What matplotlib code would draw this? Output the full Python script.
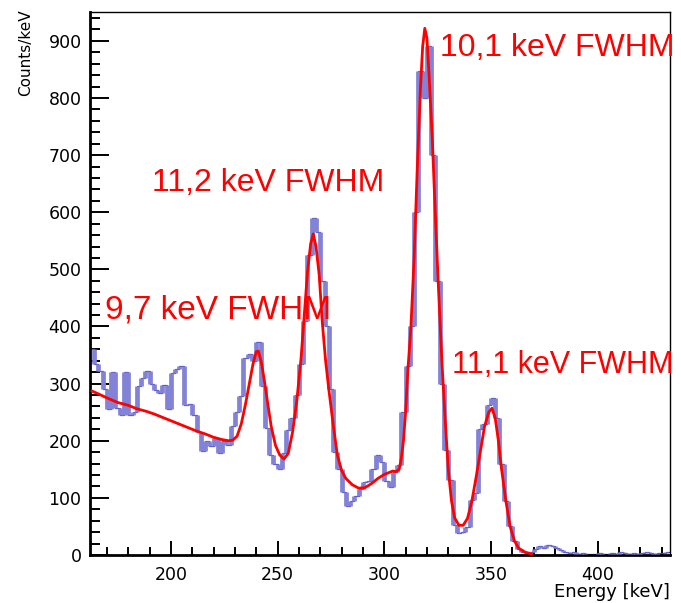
import numpy as np
import matplotlib
matplotlib.use("Agg")
import matplotlib.pyplot as plt
from matplotlib.ticker import MultipleLocator

# histogram: 2 keV bins starting at 162 keV (counts/keV)
bin_lo = 162
bin_width = 2
counts = [360, 335, 322, 290, 255, 320, 258, 245, 320, 245, 250, 295, 310, 322, 300, 288,
          284, 298, 255, 318, 325, 330, 262, 265, 245, 215, 182, 200, 190, 205, 178, 200,
          192, 225, 250, 278, 345, 352, 340, 372, 295, 222, 175, 160, 150, 178, 218, 240,
          280, 335, 410, 525, 590, 565, 480, 400, 290, 180, 150, 110, 85, 95, 103, 115,
          128, 130, 150, 175, 163, 130, 119, 145, 157, 250, 330, 400, 600, 848, 800, 891,
          700, 480, 300, 184, 131, 52, 38, 40, 49, 96, 108, 220, 230, 262, 275, 240,
          160, 95, 50, 25, 10, 6, 4, 6, 10, 16, 12, 18, 15, 12, 8, 6,
          3, 5, 2, 3, 1, 2, 1, 3, 1, 2, 4, 2, 5, 3, 2, 4,
          1, 3, 5, 4, 2, 4, 3, 6]

# fitted curve (keV, counts/keV)
fit_e = [163, 166, 170, 175, 180, 184, 188, 192, 196, 200, 204, 208, 212, 216, 220, 224,
         227, 229, 231, 233, 235, 237, 238.5, 240, 241, 242.5, 244, 245.5, 247, 249, 251, 253,
         255, 257, 259, 261, 262.5, 264, 265.5, 266.7, 268, 269.5, 271, 272.5, 274, 276, 278, 280,
         282, 285, 288, 291, 294, 297, 300, 302, 304, 305.5, 307, 308, 309, 310, 311, 312.5,
         314, 315.5, 317, 318, 319, 320, 321, 322.5, 324, 325.5, 327, 328.5, 330, 331.5, 333, 335,
         337, 339, 341, 343, 345, 347, 349, 350.5, 352, 353.5, 355, 357, 359, 361, 363, 366, 369]
fit_y = [287, 282, 275, 267, 262, 256, 252, 247, 241, 235, 229, 223, 217, 212, 206, 202,
         200, 201, 208, 230, 265, 305, 335, 356, 357, 335, 300, 262, 225, 192, 175, 168,
         178, 215, 270, 345, 420, 495, 545, 562, 540, 490, 405, 340, 290, 230, 175, 148,
         134, 123, 117, 118, 125, 134, 141, 144, 147, 146, 150, 170, 200, 250, 320, 400,
         520, 680, 820, 890, 922, 905, 840, 730, 590, 460, 340, 240, 150, 95, 65, 52,
         52, 64, 93, 135, 180, 225, 250, 257, 240, 200, 150, 95, 50, 25, 12, 5, 2]

labels = ["10,1 keV FWHM", "11,2 keV FWHM", "9,7 keV FWHM", "11,1 keV FWHM"]
label_pos = [(0.603, 0.934), (0.107, 0.685), (0.026, 0.451), (0.624, 0.35)]
label_size = [23, 23, 24, 22]

counts = np.array(counts, dtype=float)
edges = bin_lo + bin_width * np.arange(len(counts) + 1)

fig = plt.figure(figsize=(6.81, 6.03), dpi=100)
ax = fig.add_axes([0.132, 0.0796, 0.852, 0.900])

# ROOT-like drawing: thin step outline + thick light vertical jumps
lo = np.minimum(counts[:-1], counts[1:])
hi = np.maximum(counts[:-1], counts[1:])
ax.stairs(counts, edges, baseline=None, color="#4444c0", lw=0.9, zorder=2)
ax.vlines(edges[1:-1], lo, hi, color="#8282d6", lw=3.4, zorder=3)
ax.plot(fit_e, fit_y, color="#ff0000", lw=2.0, zorder=4)

ax.set_xlim(162, 434)
ax.set_ylim(0, 950)
ax.xaxis.set_major_locator(MultipleLocator(50))
ax.xaxis.set_minor_locator(MultipleLocator(10))
ax.yaxis.set_major_locator(MultipleLocator(100))
ax.yaxis.set_minor_locator(MultipleLocator(20))
ax.tick_params(axis="both", which="both", direction="in", top=False, right=False,
               labelsize=12.5, width=1.4)
ax.tick_params(axis="y", which="major", length=14, pad=6)
ax.tick_params(axis="y", which="minor", length=7)
ax.tick_params(axis="x", which="major", length=10, pad=8)
ax.tick_params(axis="x", which="minor", length=5.5)
for side in ["left", "bottom"]:
    ax.spines[side].set_linewidth(2.0)
for side in ["top", "right"]:
    ax.spines[side].set_linewidth(1.0)

fig.text(0.038, 0.985, "Counts/keV", rotation=90, ha="center", va="top", fontsize=11)
fig.text(0.984, 0.003, "Energy [keV]", ha="right", va="bottom", fontsize=13)

for txt, (x, y), fs in zip(labels, label_pos, label_size):
    ax.text(x, y, txt, transform=ax.transAxes, color="#ff0000", fontsize=fs,
            family="Liberation Sans", ha="left", va="center")

fig.savefig("out.png", dpi=100)
